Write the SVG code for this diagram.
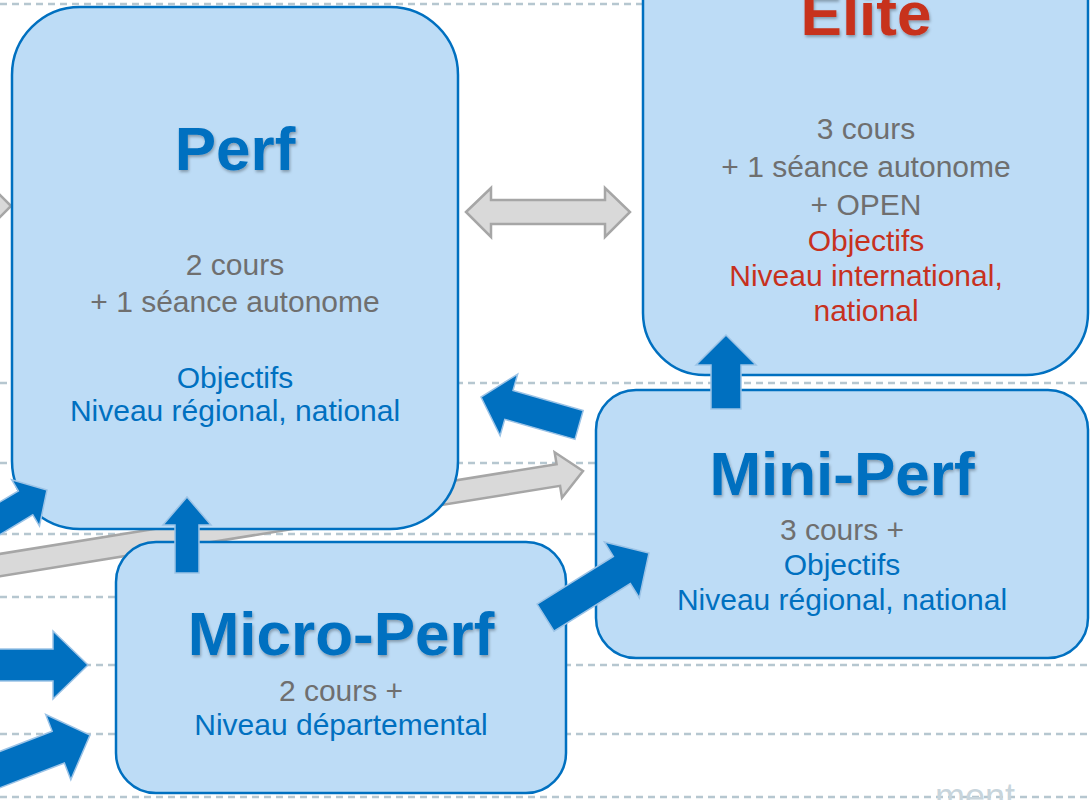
<svg xmlns="http://www.w3.org/2000/svg" width="1090" height="800" viewBox="0 0 1090 800">
<defs>
<style>
.dash{stroke:#b6c7d0;stroke-width:2.5;stroke-dasharray:7 5;fill:none}
.box{fill:#bddcf6;stroke:#0070c0;stroke-width:2.5}
.garrow{fill:#d9d9d9;stroke:#a6a6a6;stroke-width:2.5;stroke-linejoin:miter}
.barrow{fill:#0070c0;stroke:#9cc3e6;stroke-width:1.5;stroke-linejoin:miter}
text{font-family:"Liberation Sans",Arial,sans-serif;text-anchor:middle}
.title{font-size:62px;font-weight:bold;fill:#0070c0;filter:url(#sh)}
.red{fill:#c7311e}
.gray{font-size:30px;fill:#6f6f6f}
.blue{font-size:30px;fill:#0070c0}
.rtext{font-size:30px;fill:#c7311e}
</style>
<filter id="sh" x="-10%" y="-20%" width="120%" height="150%">
<feDropShadow dx="1" dy="2" stdDeviation="1.5" flood-color="#000" flood-opacity="0.3"/>
</filter>
</defs>
<rect width="1090" height="800" fill="#ffffff"/>
<g id="grid">
<line class="dash" x1="0" y1="4" x2="1090" y2="4"/>
<line class="dash" x1="0" y1="383" x2="1090" y2="383"/>
<line class="dash" x1="0" y1="463" x2="1090" y2="463"/>
<line class="dash" x1="0" y1="534" x2="1090" y2="534"/>
<line class="dash" x1="0" y1="597" x2="1090" y2="597"/>
<line class="dash" x1="0" y1="665" x2="1090" y2="665"/>
<line class="dash" x1="0" y1="734" x2="1090" y2="734"/>
<line class="dash" x1="0" y1="797" x2="1090" y2="797"/>
<text x="975" y="809" style="font-size:36px;fill:#c8d5dc">ment</text>
</g>
<g id="connectors-back">
<polygon class="garrow" points="11,206 -14,181 -14,194 -60,194 -60,218 -14,218 -14,231"/>
<polygon class="garrow" transform="translate(583,471) rotate(-9.16)" points="-640,-11 -25,-11 -25,-23 0,0 -25,23 -25,11 -640,11"/>
</g>
<g id="node-perf">
<rect class="box" x="12" y="7" width="446" height="522" rx="68" ry="68"/>
<text class="title" x="235" y="170">Perf</text>
<text class="gray" x="235" y="275">2 cours</text>
<text class="gray" x="235" y="312">+ 1 séance autonome</text>
<text class="blue" x="235" y="388">Objectifs</text>
<text class="blue" x="235" y="421">Niveau régional, national</text>
</g>
<g id="node-elite">
<rect class="box" x="643" y="-80" width="445" height="455" rx="62" ry="62"/>
<text class="title red" x="866" y="35">Elite</text>
<text class="gray" x="866" y="139">3 cours</text>
<text class="gray" x="866" y="177">+ 1 séance autonome</text>
<text class="gray" x="866" y="215">+ OPEN</text>
<text class="rtext" x="866" y="251">Objectifs</text>
<text class="rtext" x="866" y="286">Niveau international,</text>
<text class="rtext" x="866" y="321">national</text>
</g>
<g id="node-miniperf">
<rect class="box" x="596" y="390" width="492" height="268" rx="40" ry="40"/>
<text class="title" x="842" y="495">Mini-Perf</text>
<text class="gray" x="842" y="540">3 cours +</text>
<text class="blue" x="842" y="575">Objectifs</text>
<text class="blue" x="842" y="610">Niveau régional, national</text>
</g>
<g id="node-microperf">
<rect class="box" x="116" y="542" width="450" height="251" rx="40" ry="40"/>
<text class="title" x="341" y="655">Micro-Perf</text>
<text class="gray" x="341" y="701">2 cours +</text>
<text class="blue" x="341" y="735">Niveau départemental</text>
</g>
<g id="connectors">
<polygon class="garrow" points="466,212 491,188 491,200 605,200 605,188 630,212 605,237 605,224 491,224 491,237"/>
<polygon class="barrow" transform="translate(187,497) rotate(-90)" points="-76,-12 -28,-12 -28,-24 0,0 -28,24 -28,12 -76,12"/>
<polygon class="barrow" transform="translate(726,335) rotate(-90)" points="-74,-15 -30,-15 -30,-30 0,0 -30,30 -30,15 -74,15"/>
<polygon class="barrow" transform="translate(481,397) rotate(195.9)" points="-102,-15 -29,-15 -29,-32 0,0 -29,32 -29,15 -102,15"/>
<polygon class="barrow" transform="translate(649,553) rotate(-32)" points="-122,-16 -32,-16 -32,-33 0,0 -32,33 -32,16 -122,16"/>
<polygon class="barrow" transform="translate(47,490) rotate(-31)" points="-90,-14 -25,-14 -25,-27 0,0 -25,27 -25,14 -90,14"/>
<polygon class="barrow" transform="translate(88,665) rotate(0)" points="-120,-16 -35,-16 -35,-34 0,0 -35,34 -35,16 -120,16"/>
<polygon class="barrow" transform="translate(90,735) rotate(-21)" points="-110,-17 -34,-17 -34,-35 0,0 -34,35 -34,17 -110,17"/>
</g>
</svg>
